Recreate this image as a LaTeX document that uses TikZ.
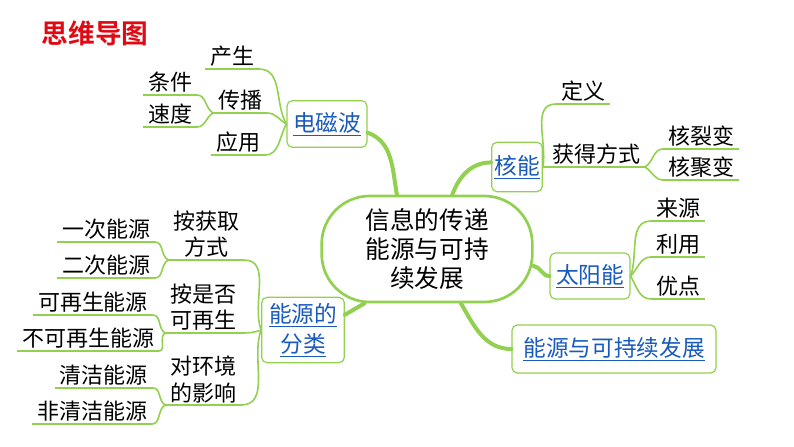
\documentclass[tikz,border=0pt]{standalone}
\usepackage{fontspec}
\setmainfont{Noto Sans CJK SC}[BoldFont={* Bold}]
\definecolor{branch}{RGB}{146,208,80}
\definecolor{link}{RGB}{25,90,190}
\newcommand{\lk}[1]{\underline{#1}}

\begin{document}
\begin{tikzpicture}[x=0.75pt, y=0.75pt,
    twig/.style={branch, line width=1.2pt},
    trunk/.style={branch, line width=3pt, line cap=round},
    leaf/.style={anchor=south, inner xsep=3.5pt, inner ysep=1.5pt, align=center,
      font=\fontsize{16.5}{20}\selectfont,
      append after command={(\tikzlastnode.south west) edge[twig] (\tikzlastnode.south east)}},
    topic/.style={draw=branch, fill=white, line width=0.9pt, rounded corners=4pt,
      text=link, align=center, font=\fontsize{17}{22.5}\selectfont, inner sep=2pt}]
  \useasboundingbox (0,0) rectangle (794,-447);

  \node[text={rgb,255:red,225;green,10;blue,20}, font=\bfseries\fontsize{20}{24}\selectfont] (title) at (95,-33) {思维导图};

  \node[draw=branch, fill=white, line width=2pt, rounded corners=36pt, minimum width=158pt,
    minimum height=79.5pt, align=center, font=\fontsize{18.5}{22}\selectfont] (root) at (427,-249)
    {信息的传递\\能源与可持\\续发展};

  \node[topic, minimum width=60pt, minimum height=35pt] (emw) at (327,-124) {\lk{电磁波}};
  \node[topic, minimum width=37pt, minimum height=37pt] (hn) at (517,-167) {\lk{核能}};
  \node[topic, minimum width=60pt, minimum height=34.5pt] (tyn) at (590,-276) {\lk{太阳能}};
  \node[topic, minimum width=153pt, minimum height=36pt] (kcx) at (614,-349) {\lk{能源与可持续发展}};
  \node[topic, minimum width=62pt, minimum height=49pt] (fl) at (303,-330) {\lk{能源的}\\\lk{分类}};

  \draw[trunk] (emw.-12) to[out=-20, in=100] (root.119);
  \draw[trunk] (root.65) to[out=70, in=180] (hn.170);
  \draw[trunk] (root.-9) to[out=-10, in=180] (tyn.west);
  \draw[trunk] (root.-58) to[out=-60, in=180] (kcx.west);
  \draw[trunk] (fl.20) -- (root.221);

  % electromagnetic waves
  \node[leaf] (cs) at (232,-69) {产生};
  \node[leaf] (cb) at (240,-113) {传播};
  \node[leaf] (yy) at (238,-155) {应用};
  \node[leaf] (tj) at (170,-95) {条件};
  \node[leaf] (sd) at (170,-127) {速度};
  \draw[twig] (emw.west) to[out=120, in=0] (cs.south east);
  \draw[twig] (emw.west) to[out=150, in=0] (cb.south east);
  \draw[twig] (emw.west) to[out=-120, in=0] (yy.south east);
  \draw[twig] (cb.south west) to[out=150, in=0] (tj.south east);
  \draw[twig] (cb.south west) to[out=210, in=0] (sd.south east);

  % nuclear
  \node[leaf] (dy) at (583,-104) {定义};
  \node[leaf] (hd) at (596,-167) {获得方式};
  \node[leaf] (lb) at (701,-149) {核裂变};
  \node[leaf] (jb) at (701,-180) {核聚变};
  \draw[twig] (hn.east) to[out=80, in=180] (dy.south west);
  \draw[twig] (hn.east) -- (hd.south west);
  \draw[twig] (hd.south east) to[out=30, in=180] (lb.south west);
  \draw[twig] (hd.south east) to[out=-30, in=180] (jb.south west);

  % solar
  \node[leaf] (ly) at (678,-221) {来源};
  \node[leaf] (ly2) at (678,-257) {利用};
  \node[leaf] (yd) at (678,-299) {优点};
  \draw[twig] (tyn.east) to[out=70, in=180] (ly.south west);
  \draw[twig] (tyn.east) to[out=45, in=180] (ly2.south west);
  \draw[twig] (tyn.east) to[out=-60, in=180] (yd.south west);

  % classification
  \node[leaf] (hq) at (206,-260) {按获取\\方式};
  \node[leaf] (zs) at (203,-333) {按是否\\可再生};
  \node[leaf] (hj) at (203,-405) {对环境\\的影响};
  \node[leaf] (yc) at (106,-242) {一次能源};
  \node[leaf] (ec) at (106,-278) {二次能源};
  \node[leaf] (kz) at (93,-315) {可再生能源};
  \node[leaf] (bk) at (88,-351) {不可再生能源};
  \node[leaf] (qj) at (104,-388) {清洁能源};
  \node[leaf] (fq) at (92,-424) {非清洁能源};
  \draw[twig] (fl.west) to[out=110, in=0] (hq.south east);
  \draw[twig] (fl.west) to[out=200, in=0] (zs.south east);
  \draw[twig] (fl.west) to[out=-110, in=0] (hj.south east);
  \draw[twig] (hq.south west) to[out=150, in=0] (yc.south east);
  \draw[twig] (hq.south west) to[out=210, in=0] (ec.south east);
  \draw[twig] (zs.south west) to[out=150, in=0] (kz.south east);
  \draw[twig] (zs.south west) to[out=210, in=0] (bk.south east);
  \draw[twig] (hj.south west) to[out=150, in=0] (qj.south east);
  \draw[twig] (hj.south west) to[out=210, in=0] (fq.south east);
\end{tikzpicture}
\end{document}
